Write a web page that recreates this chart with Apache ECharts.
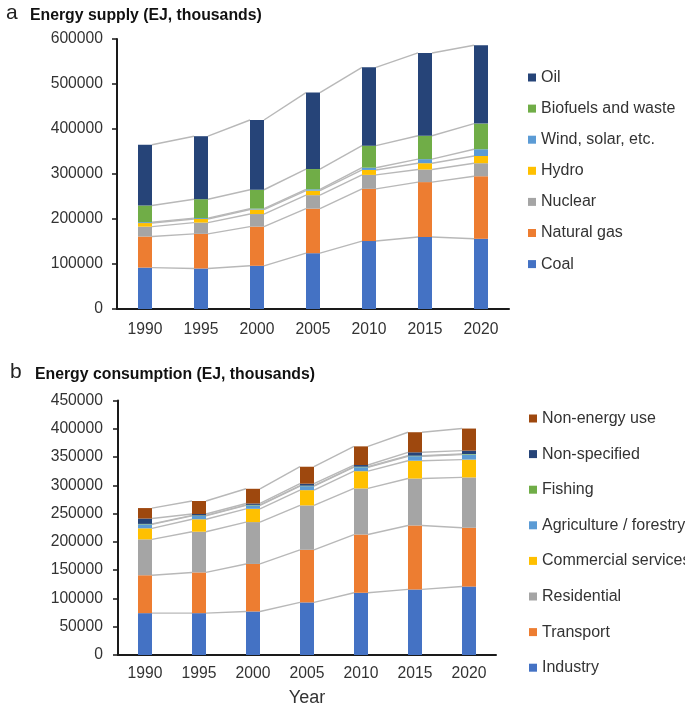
<!DOCTYPE html>
<html><head><meta charset="utf-8">
<script src="https://cdn.jsdelivr.net/npm/echarts@6/dist/echarts.min.js"></script>
<style>html,body{margin:0;padding:0;background:#fff}#c{width:685px;height:708px}</style>
</head><body><div id="c"></div>
<script>
const years = ['1990','1995','2000','2005','2010','2015','2020'];
// Energy supply (stack order bottom -> top)
const coal    = [92000, 90000, 96000, 124000, 151000, 160000, 156000];
const natGas  = [69000, 77000, 87000, 99000, 116000, 122000, 139000];
const nuclear = [22000, 25000, 28000, 30000, 31000, 28000, 29000];
const hydro   = [8000, 8000, 10000, 10000, 11000, 14000, 16000];
const windSolar = [2000, 2000, 2000, 3000, 5000, 9000, 15000];
const biofuels = [37000, 42000, 42000, 45000, 49000, 52000, 57000];
const oil     = [135000, 140000, 155000, 170000, 174000, 184000, 174000];
// Energy consumption (stack order bottom -> top)
const industry    = [74000, 74000, 77000, 93000, 110000, 116000, 121000];
const transport   = [67000, 72000, 84000, 93000, 103000, 113000, 104000];
const residential = [63500, 72000, 74000, 78500, 81500, 83000, 89000];
const commercial  = [19500, 22000, 23500, 27000, 30500, 31500, 31500];
const agriculture = [7000, 6000, 6000, 7000, 7000, 8000, 9000];
const fishing     = [800, 800, 900, 900, 900, 900, 900];
const nonSpecified = [9500, 2500, 2500, 3500, 3000, 6000, 6000];
const nonEnergy   = [18500, 23000, 26000, 30000, 33000, 35500, 39000];

const supplyNames = ['Coal','Natural gas','Nuclear','Hydro','Wind, solar, etc.','Biofuels and waste','Oil'];
const supplyData = [coal, natGas, nuclear, hydro, windSolar, biofuels, oil];
const supplyColors = ['#4472C4','#ED7D31','#A5A5A5','#FFC000','#5B9BD5','#70AD47','#264478'];
const consNames = ['Industry','Transport','Residential','Commercial services','Agriculture / forestry','Fishing','Non-specified','Non-energy use'];
const consData = [industry, transport, residential, commercial, agriculture, fishing, nonSpecified, nonEnergy];
const consColors = ['#4472C4','#ED7D31','#A5A5A5','#FFC000','#5B9BD5','#70AD47','#264478','#9E480E'];

const BAR_W = 14;
const TXT = '#333333';
const FONT = 'Liberation Sans, Arial, sans-serif';

function connectorData(arrs){
  const out = [];
  const cum = years.map(()=>0);
  arrs.forEach(a=>{
    a.forEach((v,i)=>{cum[i]+=v;});
    for(let i=0;i<years.length-1;i++) out.push([i, cum[i], cum[i+1]]);
  });
  return out;
}
function renderConnector(params, api){
  const i = api.value(0);
  const p1 = api.coord([i, api.value(1)]);
  const p2 = api.coord([i+1, api.value(2)]);
  return {type:'line', shape:{x1:p1[0]+BAR_W/2, y1:p1[1], x2:p2[0]-BAR_W/2, y2:p2[1]},
    style:{stroke:'#b8b8b8', lineWidth:1.4}};
}

const series = [];
supplyNames.forEach((n,k)=>series.push({name:n, type:'bar', stack:'s', xAxisIndex:0, yAxisIndex:0,
  barWidth:BAR_W, data:supplyData[k], itemStyle:{color:supplyColors[k]}}));
consNames.forEach((n,k)=>series.push({name:n, type:'bar', stack:'c', xAxisIndex:1, yAxisIndex:1,
  barWidth:BAR_W, data:consData[k], itemStyle:{color:consColors[k]}}));
series.push({type:'custom', xAxisIndex:0, yAxisIndex:0, renderItem:renderConnector,
  data:connectorData(supplyData), encode:{x:0, y:[1,2]}, z:1, silent:true});
series.push({type:'custom', xAxisIndex:1, yAxisIndex:1, renderItem:renderConnector,
  data:connectorData(consData), encode:{x:0, y:[1,2]}, z:1, silent:true});

function xAxis(idx, margin, name){
  return {type:'category', gridIndex:idx, data:years,
    axisLine:{lineStyle:{color:'#1a1a1a', width:2}}, axisTick:{show:false},
    axisLabel:{color:TXT, fontSize:15.7, fontFamily:FONT, margin:margin},
    name:name||'', nameLocation:'middle', nameGap:34,
    nameTextStyle:{color:TXT, fontSize:18, fontFamily:FONT}};
}
function yAxis(idx, max, interval, margin){
  return {type:'value', gridIndex:idx, min:0, max:max, interval:interval,
    axisLine:{show:true, lineStyle:{color:'#1a1a1a', width:2}},
    axisTick:{show:true, length:5, lineStyle:{color:'#1a1a1a', width:1.5}},
    splitLine:{show:false},
    axisLabel:{color:TXT, fontSize:15.7, fontFamily:FONT, margin:margin, formatter:v=>String(v)}};
}

const option = {
  animation:false,
  backgroundColor:'#fff',
  title:[
    {text:'a', left:1, top:-2, textStyle:{fontSize:21, fontWeight:'normal', color:'#222', fontFamily:FONT}},
    {text:'Energy supply (EJ, thousands)', left:25, top:3, textStyle:{fontSize:15.8, fontWeight:'bold', color:'#111', fontFamily:FONT}},
    {text:'b', left:5, top:357, textStyle:{fontSize:21, fontWeight:'normal', color:'#222', fontFamily:FONT}},
    {text:'Energy consumption (EJ, thousands)', left:30, top:362, textStyle:{fontSize:15.8, fontWeight:'bold', color:'#111', fontFamily:FONT}}
  ],
  grid:[
    {left:117, top:39, width:392, height:270},
    {left:118, top:400.5, width:378, height:255}
  ],
  xAxis:[xAxis(0, 13), xAxis(1, 11, 'Year')],
  yAxis:[yAxis(0, 600000, 100000, 14), yAxis(1, 450000, 50000, 15)],
  legend:[
    {data:supplyNames.slice().reverse(), orient:'vertical', left:523, top:64.5, itemWidth:8, itemHeight:8,
     itemGap:15.1, icon:'rect', selectedMode:false,
     textStyle:{color:TXT, fontSize:16, fontFamily:FONT, lineHeight:16}},
    {data:consNames.slice().reverse(), orient:'vertical', left:524, top:405.5, itemWidth:8, itemHeight:8,
     itemGap:19.6, icon:'rect', selectedMode:false,
     textStyle:{color:TXT, fontSize:16, fontFamily:FONT, lineHeight:16}}
  ],
  series:series
};
const chart = echarts.init(document.getElementById('c'), null, {renderer:'canvas'});
chart.setOption(option);
</script></body></html>
